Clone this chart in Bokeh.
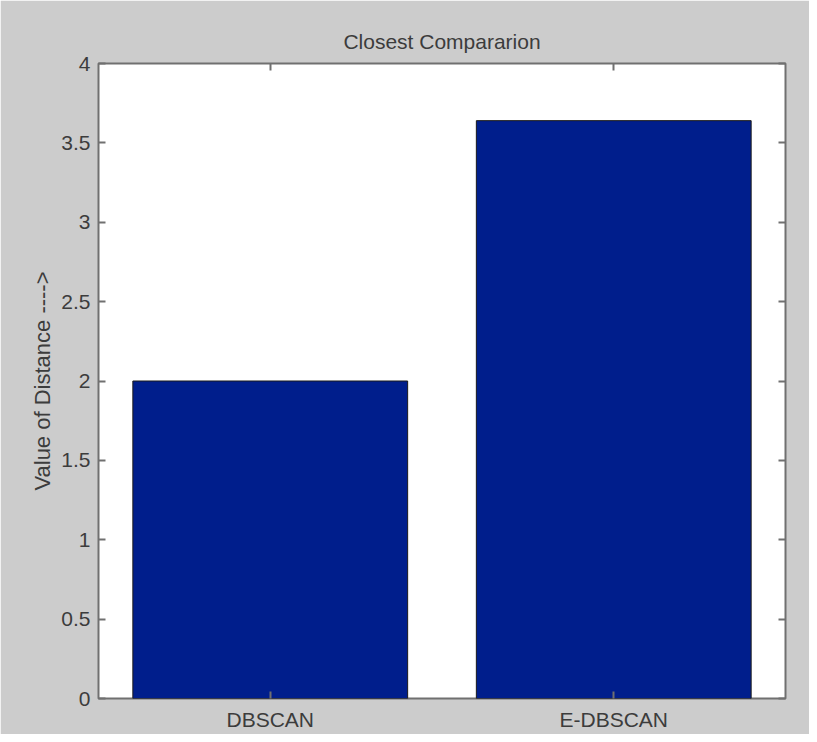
from bokeh.plotting import figure
from bokeh.models import ColumnDataSource, LinearAxis, FixedTicker, Range1d
from bokeh.embed import file_html
from bokeh.resources import INLINE

categories = ["DBSCAN", "E-DBSCAN"]
values = [2.0, 3.64]
y_ticks = [0, 0.5, 1, 1.5, 2, 2.5, 3, 3.5, 4]

FONT = "Liberation Sans"
TXT = "#3c3c3c"
BG = "#cccccc"

xpos = list(range(1, len(categories) + 1))
src = ColumnDataSource(dict(x=xpos, val=values, cat=categories))

p = figure(x_range=Range1d(0.5, len(categories) + 0.5), y_range=Range1d(0, 4),
           width=809, height=734, output_backend="svg", toolbar_location=None,
           min_border_left=98, min_border_right=24, min_border_top=63, min_border_bottom=36)
p.background_fill_color = "white"
p.border_fill_color = BG
p.outline_line_color = "#707070"
p.outline_line_width = 2
p.grid.visible = False

p.vbar(x="x", top="val", width=0.8, source=src, fill_color="#001e8c",
       line_color="#1a1a1a", line_width=1)

p.title.text = "Closest Compararion"
p.title.align = "center"
p.title.text_font = FONT
p.title.text_font_size = "21px"
p.title.text_font_style = "normal"
p.title.text_color = TXT
p.title.standoff = 21

for ax in [p.xaxis[0], p.yaxis[0]]:
    ax.axis_line_color = None
    ax.major_tick_in = 7
    ax.major_tick_out = 0
    ax.major_tick_line_color = "#707070"
    ax.major_tick_line_width = 2
    ax.minor_tick_line_color = None
    ax.major_label_text_font = FONT
    ax.major_label_text_font_size = "21px"
    ax.major_label_text_color = TXT

p.xaxis[0].ticker = FixedTicker(ticks=xpos)
p.xaxis[0].major_label_overrides = dict(zip(xpos, categories))
p.xaxis[0].major_label_standoff = 9

p.yaxis[0].ticker = FixedTicker(ticks=y_ticks)
p.yaxis[0].major_label_standoff = 8
p.yaxis[0].axis_label = "Value of Distance ---->"
p.yaxis[0].axis_label_text_font = FONT
p.yaxis[0].axis_label_text_font_size = "22px"
p.yaxis[0].axis_label_text_font_style = "normal"
p.yaxis[0].axis_label_text_color = TXT
p.yaxis[0].axis_label_standoff = 3

right = LinearAxis(ticker=FixedTicker(ticks=y_ticks))
right.major_label_overrides = {t: "" for t in y_ticks}
top = LinearAxis(ticker=FixedTicker(ticks=xpos))
top.major_label_overrides = {t: "" for t in xpos}
for ax in [right, top]:
    ax.axis_line_color = None
    ax.major_tick_in = 7
    ax.major_tick_out = 0
    ax.major_tick_line_color = "#707070"
    ax.major_tick_line_width = 2
    ax.minor_tick_line_color = None
    ax.major_label_standoff = 0
p.add_layout(right, "right")
p.add_layout(top, "above")

open("out.html", "w").write(file_html(p, INLINE))
